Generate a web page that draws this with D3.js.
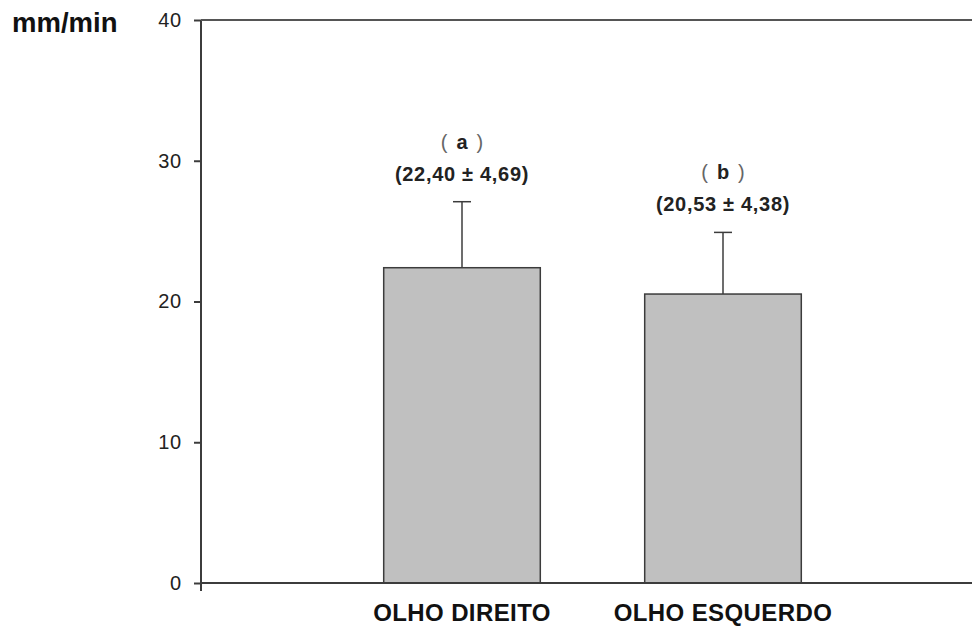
<!DOCTYPE html>
<html>
<head>
<meta charset="utf-8">
<script src="https://cdn.jsdelivr.net/npm/d3@7"></script>
<style>
  html, body { margin: 0; padding: 0; background: #fff; }
  svg { display: block; }
</style>
</head>
<body>
<svg id="chart" width="972" height="627"></svg>
<script>
// Tear flow rate per eye (mean ± SD)
const categories = ["OLHO DIREITO", "OLHO ESQUERDO"];
const means = [22.40, 20.53];
const sds = [4.69, 4.38];
const groupLetters = ["a", "b"];
const valueLabels = ["(22,40 ± 4,69)", "(20,53 ± 4,38)"];
const yTicks = [0, 10, 20, 30, 40];
const yUnit = "mm/min";

const W = 972, H = 627;
const plotLeft = 201, plotTop = 20, plotBottom = 583;
const axisColor = "#3c3c3c";
const font = "Liberation Sans, Arial, sans-serif";

const svg = d3.select("#chart");

const y = d3.scaleLinear().domain([0, 40]).range([plotBottom, plotTop]);
const x = d3.scaleBand()
  .domain(categories)
  .range([plotLeft, 984])
  .paddingInner(0.4)
  .paddingOuter(0.7);

// bars
svg.append("g").selectAll("rect")
  .data(categories)
  .join("rect")
  .attr("x", d => x(d))
  .attr("width", x.bandwidth())
  .attr("y", (d, i) => y(means[i]))
  .attr("height", (d, i) => y(0) - y(means[i]))
  .attr("fill", "#c0c0c0")
  .attr("stroke", axisColor)
  .attr("stroke-width", 1.5);

// upper error bars
const eb = svg.append("g").attr("stroke", axisColor).attr("stroke-width", 1.5);
categories.forEach((c, i) => {
  const cx = x(c) + x.bandwidth() / 2;
  eb.append("line")
    .attr("x1", cx).attr("x2", cx)
    .attr("y1", y(means[i])).attr("y2", y(means[i] + sds[i]));
  eb.append("line")
    .attr("x1", cx - 9).attr("x2", cx + 9)
    .attr("y1", y(means[i] + sds[i])).attr("y2", y(means[i] + sds[i]));
});

// annotations above each bar
categories.forEach((c, i) => {
  const cx = x(c) + x.bandwidth() / 2;
  const yErr = y(means[i] + sds[i]);
  svg.append("text")
    .attr("x", cx).attr("y", yErr - 21)
    .attr("text-anchor", "middle")
    .attr("font-family", font)
    .attr("font-weight", "bold")
    .attr("font-size", 20)
    .attr("letter-spacing", 0.7)
    .attr("fill", "#222")
    .text(valueLabels[i]);
  const t = svg.append("text")
    .attr("x", cx).attr("y", yErr - 53)
    .attr("text-anchor", "middle")
    .attr("font-family", font)
    .attr("font-size", 20)
    .attr("fill", "#222");
  t.append("tspan").attr("fill", "#666").text("(");
  t.append("tspan").attr("dx", 9).attr("font-weight", "bold").text(groupLetters[i]);
  t.append("tspan").attr("dx", 9).attr("fill", "#666").text(")");
});

// y axis
const yAxis = d3.axisLeft(y).tickValues(yTicks).tickSize(7).tickPadding(12).tickFormat(d3.format("d"));
const gy = svg.append("g").attr("transform", `translate(${plotLeft},0)`).call(yAxis);
gy.select(".domain").remove();
gy.selectAll(".tick line").attr("stroke", axisColor).attr("stroke-width", 2);
gy.selectAll(".tick text")
  .attr("font-family", font)
  .attr("font-size", 20)
  .attr("letter-spacing", 0.8)
  .attr("fill", "#222");

// frame lines: left axis (extends below baseline), top and bottom
svg.append("line")
  .attr("x1", plotLeft).attr("x2", plotLeft)
  .attr("y1", plotTop).attr("y2", plotBottom + 8)
  .attr("stroke", axisColor).attr("stroke-width", 2);
svg.append("line")
  .attr("x1", plotLeft).attr("x2", W)
  .attr("y1", plotTop).attr("y2", plotTop)
  .attr("stroke", "#555").attr("stroke-width", 2);
svg.append("line")
  .attr("x1", plotLeft).attr("x2", W)
  .attr("y1", plotBottom).attr("y2", plotBottom)
  .attr("stroke", axisColor).attr("stroke-width", 2);

// category labels
svg.append("g").selectAll("text")
  .data(categories)
  .join("text")
  .attr("x", d => x(d) + x.bandwidth() / 2)
  .attr("y", 621)
  .attr("text-anchor", "middle")
  .attr("font-family", font)
  .attr("font-weight", "bold")
  .attr("font-size", 24)
  .attr("letter-spacing", 0.4)
  .attr("fill", "#111")
  .text(d => d);

// unit label
svg.append("text")
  .attr("x", 12).attr("y", 32)
  .attr("font-family", font)
  .attr("font-weight", "bold")
  .attr("font-size", 27.5)
  .attr("fill", "#111")
  .text(yUnit);
</script>
</body>
</html>
